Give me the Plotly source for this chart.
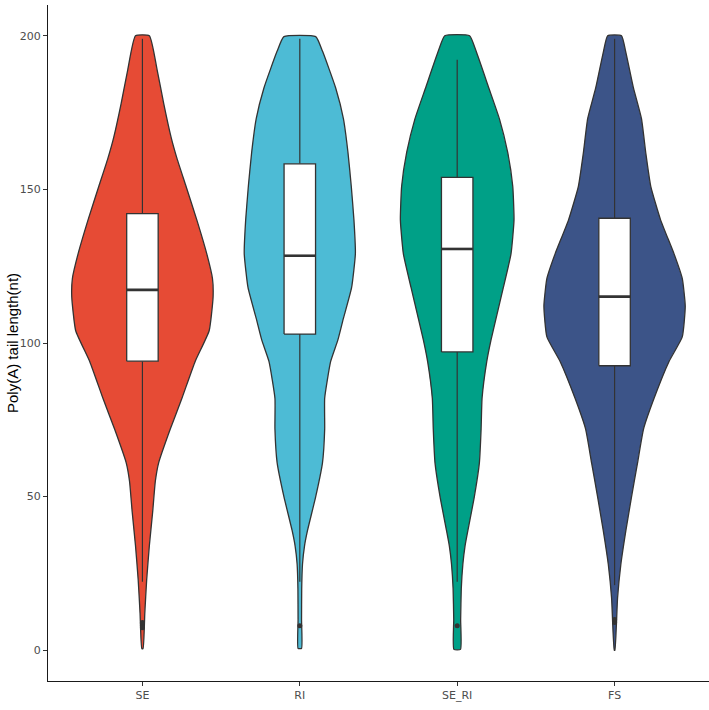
import plotly.graph_objects as go

categories = ["SE", "RI", "SE_RI", "FS"]
colors = ["#E64B35", "#4DBBD5", "#00A087", "#3C5488"]

# violin density profiles (y value, half-width in category units)
se_y = [0.6, 12, 23, 34, 45, 55, 61, 72, 82, 94, 104, 115, 121, 129, 140, 151, 160, 167, 178, 189, 200]
se_w = [0.004, 0.015, 0.027, 0.044, 0.065, 0.082, 0.103, 0.177, 0.251, 0.335, 0.424, 0.449, 0.445, 0.409,
        0.346, 0.277, 0.220, 0.182, 0.135, 0.093, 0.044]

ri_y = [0.6, 10, 20, 28, 34, 39, 50, 61, 72, 82, 94, 101, 108, 118, 129, 140, 151, 162, 173, 183, 195, 199.7]
ri_w = [0.011, 0.011, 0.012, 0.017, 0.030, 0.049, 0.101, 0.144, 0.158, 0.158, 0.196, 0.242, 0.277, 0.329,
        0.353, 0.344, 0.327, 0.306, 0.277, 0.228, 0.144, 0.101]

seri_y = [0.3, 10, 20, 28, 34, 39, 50, 61, 72, 82, 94, 101, 108, 118, 129, 140, 151, 162, 173, 183, 195, 200]
seri_w = [0.021, 0.022, 0.026, 0.036, 0.050, 0.068, 0.109, 0.141, 0.152, 0.158, 0.188, 0.215, 0.247, 0.293,
          0.342, 0.361, 0.353, 0.321, 0.268, 0.201, 0.120, 0.079]

fs_y = [0.0, 17, 28, 39, 50, 61, 72, 82, 94, 102, 112, 121, 129, 140, 151, 162, 173, 183, 195, 200]
fs_w = [0.002, 0.019, 0.040, 0.072, 0.108, 0.146, 0.184, 0.251, 0.346, 0.430, 0.449, 0.430, 0.378, 0.293,
        0.230, 0.198, 0.171, 0.120, 0.070, 0.044]

violin_y = [se_y, ri_y, seri_y, fs_y]
violin_w = [se_w, ri_w, seri_w, fs_w]

# box statistics
q1 = [94.1, 102.9, 97.1, 92.6]
median = [117.3, 128.4, 130.6, 115.1]
q3 = [142.1, 158.3, 153.9, 140.6]
lower_whisker = [22.3, 22.3, 22.3, 21.2]
upper_whisker = [199.0, 199.0, 192.2, 199.0]
outliers = [[7.3, 8.0, 8.7, 9.0], [8.0], [8.0], [9.0, 10.0]]

box_width = 0.2
edge = "#333333"

fig = go.Figure()

# violins
for i, cat in enumerate(categories):
    c = i + 1
    ys = violin_y[i]
    ws = violin_w[i]
    xs = [c + w for w in ws] + [c - w for w in reversed(ws)] + [c + ws[0]]
    yy = list(ys) + list(reversed(ys)) + [ys[0]]
    fig.add_trace(go.Scatter(
        x=xs, y=yy, mode="lines", fill="toself", fillcolor=colors[i],
        line=dict(color=edge, width=1.3, shape="spline", smoothing=0.45),
        hoverinfo="skip", showlegend=False))

# whiskers
wx, wy = [], []
for i in range(len(categories)):
    c = i + 1
    wx += [c, c, None, c, c, None]
    wy += [lower_whisker[i], q1[i], None, q3[i], upper_whisker[i], None]
fig.add_trace(go.Scatter(x=wx, y=wy, mode="lines", line=dict(color=edge, width=1.2),
                         hoverinfo="skip", showlegend=False))

# boxes
for i in range(len(categories)):
    c = i + 1
    h = box_width / 2
    fig.add_trace(go.Scatter(
        x=[c - h, c + h, c + h, c - h, c - h],
        y=[q1[i], q1[i], q3[i], q3[i], q1[i]],
        mode="lines", fill="toself", fillcolor="white",
        line=dict(color=edge, width=1.3), hoverinfo="skip", showlegend=False))

# thicker median lines
mx, my = [], []
for i in range(len(categories)):
    c = i + 1
    mx += [c - box_width / 2, c + box_width / 2, None]
    my += [median[i], median[i], None]
fig.add_trace(go.Scatter(x=mx, y=my, mode="lines", line=dict(color=edge, width=2.6),
                         hoverinfo="skip", showlegend=False))

# outliers
ox, oy = [], []
for i, pts in enumerate(outliers):
    for v in pts:
        ox.append(i + 1)
        oy.append(v)
fig.add_trace(go.Scatter(x=ox, y=oy, mode="markers",
                         marker=dict(color=edge, size=5), showlegend=False, hoverinfo="skip"))

fig.update_layout(
    width=709, height=710,
    margin=dict(l=48, r=0, t=5, b=29),
    plot_bgcolor="white", paper_bgcolor="white",
    showlegend=False,
    font=dict(family="DejaVu Sans", size=11, color="#4D4D4D"),
    xaxis=dict(range=[0.4, 4.6], tickmode="array", tickvals=[1, 2, 3, 4], ticktext=categories,
               showgrid=False, zeroline=False, showline=True, linecolor="#1a1a1a", linewidth=1.3,
               ticks="outside", ticklen=4, tickcolor="#333333", tickwidth=1.1,
               tickfont=dict(family="DejaVu Sans", size=11, color="#4D4D4D")),
    yaxis=dict(range=[-10, 210], tickmode="array", tickvals=[0, 50, 100, 150, 200],
               showgrid=False, zeroline=False, showline=True, linecolor="#1a1a1a", linewidth=1.3,
               ticks="outside", ticklen=4, tickcolor="#333333", tickwidth=1.1,
               tickfont=dict(family="DejaVu Sans", size=11, color="#4D4D4D")),
    annotations=[dict(text="Poly(A) tail length(nt)", xref="paper", yref="paper",
                      x=-0.0545, y=0.5, xanchor="center", yanchor="middle", textangle=-90,
                      showarrow=False, font=dict(family="Liberation Sans", size=15, color="black"))],
)

fig.write_html("out.html")
